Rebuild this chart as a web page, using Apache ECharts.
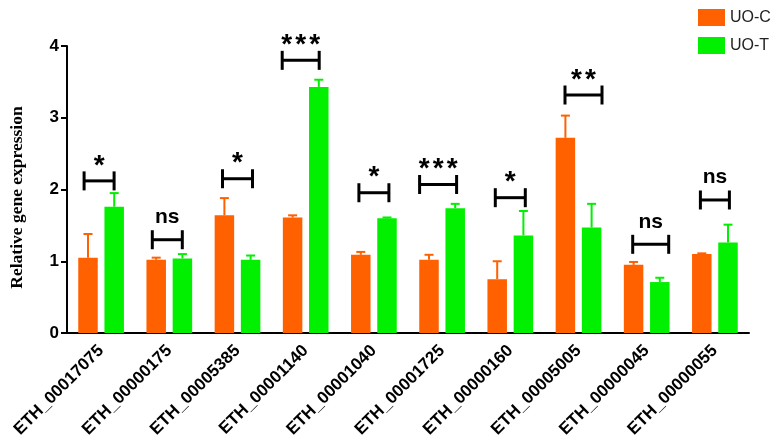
<!DOCTYPE html>
<html>
<head>
<meta charset="utf-8">
<script src="https://cdn.jsdelivr.net/npm/echarts@6/dist/echarts.min.js"></script>
<style>
  html, body { margin: 0; padding: 0; background: #fff; }
  #chart { width: 782px; height: 445px; }
</style>
</head>
<body>
<div id="chart"></div>
<script>
// gene ids on the x axis
const genes = ['ETH_00017075', 'ETH_00000175', 'ETH_00005385', 'ETH_00001140', 'ETH_00001040',
  'ETH_00001725', 'ETH_00000160', 'ETH_00005005', 'ETH_00000045', 'ETH_00000055'];
// UO-C mean and error (upper whisker only)
const ucMean = [1.05, 1.02, 1.64, 1.61, 1.09, 1.02, 0.75, 2.72, 0.95, 1.10];
const ucErr = [0.33, 0.03, 0.24, 0.03, 0.04, 0.07, 0.25, 0.31, 0.04, 0.01];
// UO-T mean and error
const utMean = [1.76, 1.04, 1.02, 3.43, 1.60, 1.74, 1.36, 1.47, 0.71, 1.26];
const utErr = [0.19, 0.06, 0.06, 0.10, 0.01, 0.06, 0.34, 0.33, 0.06, 0.25];
// significance marks and the height of their brackets
const sigText = ['*', 'ns', '*', '***', '*', '***', '*', '**', 'ns', 'ns'];
const sigLevel = [2.12, 1.30, 2.15, 3.80, 1.955, 2.07, 1.886, 3.317, 1.236, 1.854];
const yTicks = [0, 1, 2, 3, 4];

// styling only
const bracketShift = [-2, -2, 0, -5, 0, -4, 0, 5, 4, 0];
const bracketHalf = [15, 15, 15, 18.5, 15, 18.5, 15, 18.5, 18, 14.5];
const BAR_W = 19.5;
const BAR_GAP = 6.7;
const STAR_PITCH = 14;
const ORANGE = '#ff6000';
const GREEN = '#00f000';

const chart = echarts.init(document.getElementById('chart'));

function errorRender(sign, color) {
  return function (params, api) {
    const i = api.value(0);
    const base = api.coord([i, api.value(1)]);
    const top = api.coord([i, api.value(2)]);
    const x = base[0] + sign * (BAR_W / 2 + BAR_GAP / 2);
    const st = { stroke: color, lineWidth: 2 };
    return {
      type: 'group',
      children: [
        { type: 'line', shape: { x1: x, y1: base[1], x2: x, y2: top[1] }, style: st },
        { type: 'line', shape: { x1: x - 4.5, y1: top[1], x2: x + 4.5, y2: top[1] }, style: st }
      ]
    };
  };
}

function bracketRender(params, api) {
  const i = api.value(0);
  const p = api.coord([i, api.value(1)]);
  const cx = p[0] + bracketShift[i];
  const hw = bracketHalf[i];
  const y = p[1];
  const st = { stroke: '#000', lineWidth: 3 };
  const txt = sigText[i];
  const kids = [
    { type: 'line', shape: { x1: cx - hw, y1: y, x2: cx + hw, y2: y }, style: st },
    { type: 'line', shape: { x1: cx - hw, y1: y - 9.5, x2: cx - hw, y2: y + 9.5 }, style: st },
    { type: 'line', shape: { x1: cx + hw, y1: y - 9.5, x2: cx + hw, y2: y + 9.5 }, style: st }
  ];
  if (txt.indexOf('*') >= 0) {
    // stars are spread a little wider than the font's own spacing
    const n = txt.length;
    for (let k = 0; k < n; k++) {
      kids.push({
        type: 'text',
        style: {
          x: cx + (k - (n - 1) / 2) * STAR_PITCH, y: y - 1,
          text: '*', fill: '#000',
          font: 'bold 28px Arial, "Liberation Sans"',
          align: 'center', verticalAlign: 'bottom'
        }
      });
    }
  } else {
    kids.push({
      type: 'text',
      style: {
        x: cx, y: y - 12, text: txt, fill: '#000',
        font: 'bold 21px Arial, "Liberation Sans"',
        align: 'center', verticalAlign: 'bottom'
      }
    });
  }
  return { type: 'group', children: kids };
}

const option = {
  animation: false,
  backgroundColor: '#fff',
  grid: { left: 66, right: 33, top: 46, bottom: 112 },
  legend: {
    orient: 'vertical',
    left: 693, top: 4,
    itemWidth: 27, itemHeight: 17, itemGap: 11,
    icon: 'rect',
    data: ['UO-C', 'UO-T'],
    textStyle: { fontFamily: 'Arial, "Liberation Sans"', fontSize: 16, color: '#222' }
  },
  xAxis: {
    type: 'category',
    data: genes,
    axisLine: { lineStyle: { color: '#000', width: 2 } },
    axisTick: { alignWithLabel: true, length: 5, lineStyle: { color: '#000', width: 2 } },
    axisLabel: {
      rotate: 45, margin: 15, color: '#000',
      fontFamily: 'Arial, "Liberation Sans"', fontWeight: 'bold', fontSize: 17
    }
  },
  yAxis: {
    type: 'value',
    min: yTicks[0], max: yTicks[yTicks.length - 1], interval: 1,
    name: 'Relative gene expression',
    nameLocation: 'middle', nameGap: 41,
    nameTextStyle: {
      fontFamily: '"Liberation Serif", "Times New Roman", serif', fontWeight: 'bold',
      fontSize: 17.5, color: '#000', padding: [0, 16, 0, 0]
    },
    axisLine: { show: true, lineStyle: { color: '#000', width: 2 } },
    axisTick: { show: true, length: 6, lineStyle: { color: '#000', width: 2 } },
    splitLine: { show: false },
    axisLabel: {
      margin: 8, color: '#000',
      fontFamily: 'Arial, "Liberation Sans"', fontWeight: 'bold', fontSize: 17
    }
  },
  series: [
    {
      name: 'UO-C', type: 'bar', data: ucMean,
      barWidth: BAR_W, barGap: (BAR_GAP / BAR_W * 100) + '%',
      itemStyle: { color: ORANGE }
    },
    {
      name: 'UO-T', type: 'bar', data: utMean,
      barWidth: BAR_W,
      itemStyle: { color: GREEN }
    },
    {
      type: 'custom', renderItem: errorRender(-1, ORANGE), z: 3,
      data: ucMean.map((m, i) => [i, m, m + ucErr[i]])
    },
    {
      type: 'custom', renderItem: errorRender(1, GREEN), z: 3,
      data: utMean.map((m, i) => [i, m, m + utErr[i]])
    },
    {
      type: 'custom', renderItem: bracketRender, z: 4,
      data: sigLevel.map((v, i) => [i, v])
    }
  ]
};

chart.setOption(option);
window.addEventListener('resize', () => chart.resize());
</script>
</body>
</html>
